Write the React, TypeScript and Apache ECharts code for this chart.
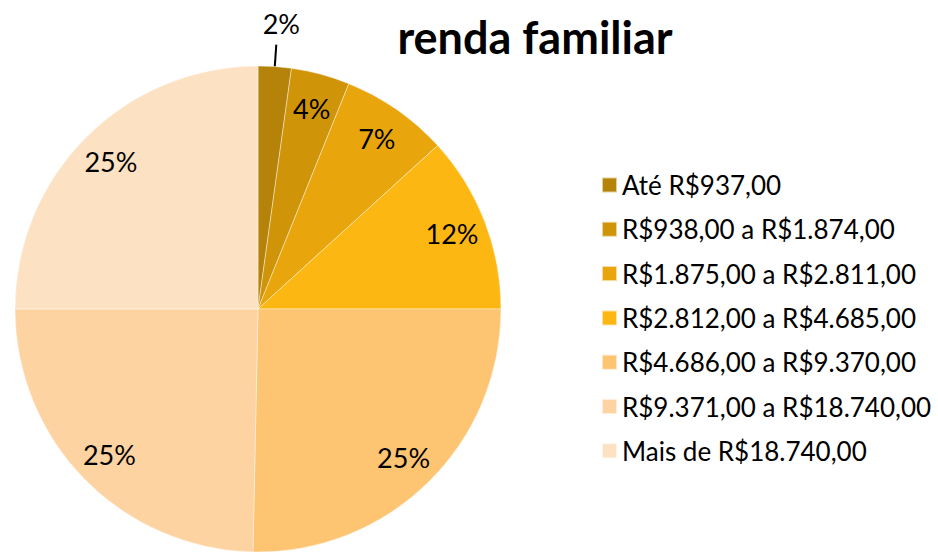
import React, { useEffect, useRef } from "react";
import * as echarts from "echarts";

const categories = [
  "Até R$937,00",
  "R$938,00 a R$1.874,00",
  "R$1.875,00 a R$2.811,00",
  "R$2.812,00 a R$4.685,00",
  "R$4.686,00 a R$9.370,00",
  "R$9.371,00 a R$18.740,00",
  "Mais de R$18.740,00",
];
const values = [2.2, 3.9, 7.15, 11.75, 25.33, 24.67, 25.0];
const labels = ["2%", "4%", "7%", "12%", "25%", "25%", "25%"];
const colors = ["#B5820A", "#D09409", "#E8A50C", "#FDB713", "#FDC471", "#FDD3A1", "#FDE1C3"];

const FONT = "Lato, 'Open Sans', sans-serif";

export default function App() {
  const ref = useRef<HTMLDivElement>(null);
  useEffect(() => {
    const chart = echarts.init(ref.current!, null, { renderer: "svg" });
    const data = categories.map((name, i) => ({
      name,
      value: values[i],
      itemStyle: { color: colors[i] },
    }));
    chart.setOption({
      animation: false,
      title: {
        text: "renda familiar",
        left: 530,
        top: 9,
        textAlign: "center",
        textStyle: { fontFamily: FONT, fontWeight: "bold", fontSize: 45, color: "#000" },
      },
      legend: {
        orient: "vertical",
        left: 596,
        top: 167,
        itemWidth: 15,
        itemHeight: 15,
        itemGap: 18.3,
        itemTextGap: 8,
        icon: "rect",
        textStyle: { fontFamily: FONT, fontSize: 26, lineHeight: 26, color: "#000" },
        data: categories,
      },
      series: [
        {
          type: "pie",
          center: [258, 309],
          radius: [0, 243],
          startAngle: 90,
          clockwise: true,
          silent: true,
          itemStyle: { borderColor: "rgba(255,255,255,0.6)", borderWidth: 0.7 },
          label: { show: false },
          labelLine: { show: false },
          data: data.map((d, i) =>
            i === 0
              ? {
                  ...d,
                  label: {
                    show: true,
                    position: "outside",
                    formatter: labels[0],
                    fontFamily: FONT,
                    fontSize: 27,
                    color: "#000",
                  },
                  labelLine: { show: true, length: 22, length2: 0, lineStyle: { color: "#000", width: 2 } },
                }
              : d
          ),
          labelLayout: (p: any) =>
            p.dataIndex === 0 ? { align: "center", verticalAlign: "bottom", dy: -8 } : {},
        },
        {
          type: "pie",
          center: [258, 309],
          radius: [165, 245],
          startAngle: 90,
          clockwise: true,
          silent: true,
          itemStyle: { color: "transparent" },
          label: {
            show: true,
            position: "inside",
            fontFamily: FONT,
            fontSize: 27,
            color: "#000",
            formatter: (p: any) => (p.dataIndex === 0 ? "" : labels[p.dataIndex]),
          },
          labelLine: { show: false },
          data: categories.map((name, i) => ({ name: name + " ", value: values[i] })),
        },
      ],
    });
    return () => chart.dispose();
  }, []);
  return <div ref={ref} style={{ position: "fixed", left: 0, top: 0, width: 938, height: 552, background: "#fff" }} />;
}
